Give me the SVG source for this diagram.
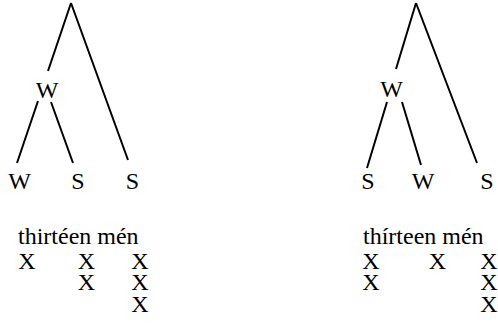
<svg xmlns="http://www.w3.org/2000/svg" width="498" height="326" viewBox="0 0 498 326">
<style>
.e{stroke:#000;stroke-width:2;fill:none;stroke-linecap:butt}
text{font-family:"Liberation Serif","Times New Roman","DejaVu Serif",serif;font-size:24px;fill:#000}
.l{text-anchor:middle}
</style>
<rect width="498" height="326" fill="#fff"/>
<g id="connectors">
<path class="e" d="M71 3L48 71M71 3L128 160M38 101L17 163M51 102L73 163"/>
<path class="e" d="M416 3L396 69M416 3L477 163M387 102L367 168M402 102L421 165"/>
</g>
<g id="L-w1"><text class="l" x="47" y="98">W</text></g>
<g id="L-w2"><text class="l" x="19.5" y="189">W</text></g>
<g id="L-s1"><text class="l" x="78" y="189">S</text></g>
<g id="L-s2"><text class="l" x="132.5" y="189">S</text></g>
<g id="R-w1"><text class="l" x="391.5" y="97">W</text></g>
<g id="R-s1"><text class="l" x="368" y="189">S</text></g>
<g id="R-w2"><text class="l" x="423" y="189">W</text></g>
<g id="R-s2"><text class="l" x="487" y="189">S</text></g>
<g id="L-grid">
<text x="18" y="244">thirtéen mén</text>
<text class="l" x="27" y="269">X</text>
<text class="l" x="86.5" y="269">X</text>
<text class="l" x="140" y="269">X</text>
<text class="l" x="86.5" y="290">X</text>
<text class="l" x="140" y="290">X</text>
<text class="l" x="140" y="312">X</text>
</g>
<g id="R-grid">
<text x="363" y="244">thírteen mén</text>
<text class="l" x="371" y="269">X</text>
<text class="l" x="437.5" y="269">X</text>
<text class="l" x="489" y="269">X</text>
<text class="l" x="371" y="290">X</text>
<text class="l" x="489" y="290">X</text>
<text class="l" x="489" y="312">X</text>
</g>
</svg>
